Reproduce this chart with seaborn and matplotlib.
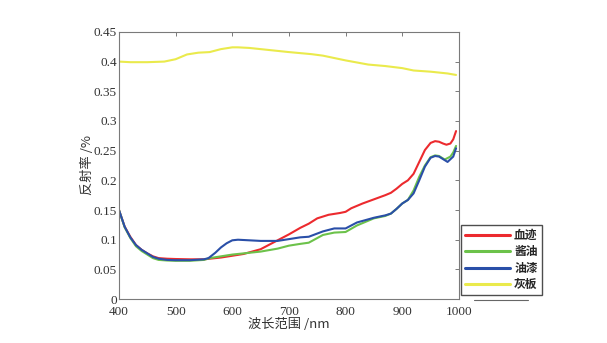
import numpy as np
import pandas as pd
import matplotlib
matplotlib.use("Agg")
import matplotlib.pyplot as plt
from matplotlib.lines import Line2D
import seaborn as sns

# Reflectance spectra (wavelength in nm, reflectance)
blood_wl = [400, 410, 420, 430, 440, 450, 460, 470, 485, 500, 525, 550, 560, 580, 600, 620, 650,
            680, 700, 720, 735, 750, 770, 790, 800, 810, 830, 850, 870, 880, 890, 900, 910,
            920, 930, 940, 950, 958, 965, 972, 978, 985, 990, 995]
blood_val = [0.150, 0.122, 0.105, 0.091, 0.083, 0.077, 0.072, 0.069, 0.068, 0.0675, 0.067, 0.067,
             0.068, 0.070, 0.073, 0.076, 0.084, 0.099, 0.109, 0.120, 0.127, 0.136, 0.142,
             0.145, 0.147, 0.153, 0.161, 0.168, 0.175, 0.179, 0.186, 0.194, 0.200, 0.211,
             0.231, 0.251, 0.263, 0.266, 0.265, 0.262, 0.260, 0.262, 0.269, 0.283]

soy_wl = [400, 410, 420, 430, 440, 450, 460, 470, 485, 500, 525, 550, 560, 580, 600, 620, 650,
          680, 700, 720, 735, 760, 780, 800, 820, 850, 870, 880, 890, 900, 910, 920, 930,
          940, 950, 958, 965, 975, 985, 990, 995]
soy_val = [0.150, 0.121, 0.103, 0.089, 0.081, 0.075, 0.069, 0.066, 0.065, 0.0645, 0.0645, 0.066,
           0.069, 0.072, 0.075, 0.077, 0.080, 0.085, 0.090, 0.093, 0.095, 0.108, 0.112,
           0.113, 0.124, 0.136, 0.140, 0.144, 0.152, 0.161, 0.167, 0.183, 0.206, 0.225,
           0.239, 0.242, 0.241, 0.235, 0.240, 0.247, 0.258]

paint_wl = [400, 410, 420, 430, 440, 450, 460, 470, 485, 500, 525, 550, 558, 570, 580, 590, 600,
            610, 630, 650, 680, 700, 720, 735, 760, 780, 800, 820, 850, 870, 880, 890, 900,
            910, 920, 930, 940, 950, 958, 965, 980, 990, 995]
paint_val = [0.150, 0.122, 0.104, 0.091, 0.083, 0.077, 0.071, 0.068, 0.066, 0.0655, 0.0655, 0.067,
             0.069, 0.078, 0.087, 0.094, 0.099, 0.100, 0.099, 0.098, 0.098, 0.101, 0.104,
             0.105, 0.114, 0.119, 0.119, 0.129, 0.137, 0.141, 0.144, 0.152, 0.161, 0.167,
             0.178, 0.200, 0.223, 0.238, 0.241, 0.240, 0.231, 0.240, 0.254]

board_wl = [400, 420, 450, 480, 500, 520, 540, 560, 580, 600, 610, 630, 650, 680, 700, 740,
            760, 800, 840, 870, 900, 920, 950, 980, 995]
board_val = [0.400, 0.399, 0.399, 0.400, 0.404, 0.412, 0.415, 0.416, 0.421, 0.424, 0.424,
             0.423, 0.421, 0.418, 0.416, 0.4125, 0.410, 0.402, 0.395, 0.3925, 0.389, 0.385,
             0.383, 0.380, 0.3775]

series_names = ["血迹", "酱油", "油漆", "灰板"]
series_colors = ["#ec2a2e", "#6cc24a", "#2a4fa8", "#eaea4c"]

x_ticks = [400, 500, 600, 700, 800, 900, 1000]
y_ticks = [0, 0.05, 0.1, 0.15, 0.2, 0.25, 0.3, 0.35, 0.4, 0.45]
y_ticklabels = ["0", "0.05", "0.1", "0.15", "0.2", "0.25", "0.3", "0.35", "0.4", "0.45"]

frames = []
for name, wl, val in zip(series_names,
                         [blood_wl, soy_wl, paint_wl, board_wl],
                         [blood_val, soy_val, paint_val, board_val]):
    frames.append(pd.DataFrame({"wl": wl, "r": val, "sample": name}))
df = pd.concat(frames, ignore_index=True)

sns.set_style("white")
plt.rcParams["font.family"] = ["Liberation Serif", "Noto Sans CJK SC", "DejaVu Sans"]

fig = plt.figure(figsize=(6.07, 3.43), dpi=100)
ax = fig.add_axes([0.196, 0.128, 0.560, 0.779])

sns.lineplot(data=df, x="wl", y="r", hue="sample", hue_order=series_names,
             palette=series_colors, linewidth=1.5, legend=False, ax=ax, sort=True)

ax.set_xlim(400, 1000)
ax.set_ylim(0, 0.45)
ax.set_xticks(x_ticks)
ax.set_xticklabels([str(t) for t in x_ticks])
ax.set_yticks(y_ticks)
ax.set_yticklabels(y_ticklabels)

for s in ax.spines.values():
    s.set_color("#7a7a7a")
    s.set_linewidth(0.8)
ax.tick_params(direction="in", length=3, width=0.7, color="#7a7a7a",
               top=True, right=True, labelsize=9.5, labelcolor="#333333")
ax.tick_params(axis="x", pad=5)
ax.tick_params(axis="y", pad=1.5)

ax.set_xlabel("波长范围 /nm", fontsize=9.5, color="#333333",
              family=["Noto Sans CJK SC", "DejaVu Sans"], labelpad=0)
ax.set_ylabel("反射率 /%", fontsize=9.5, color="#333333",
              family=["Noto Sans CJK SC", "DejaVu Sans"], labelpad=0)

handles = [Line2D([0], [0], color=c, lw=2.2) for c in series_colors]
leg = fig.legend(handles, series_names, loc="upper left",
                 bbox_to_anchor=(461 / 607, 1 - 225 / 343), bbox_transform=fig.transFigure,
                 frameon=True, fancybox=False, handlelength=3.8, handletextpad=0.35,
                 borderpad=0.35, labelspacing=0.28, borderaxespad=0,
                 prop={"family": ["Noto Sans CJK SC", "DejaVu Sans"], "size": 8.5, "weight": "bold"})
leg.get_frame().set_edgecolor("#222222")
leg.get_frame().set_linewidth(1.0)

# thin rule beneath the legend box
fig.add_artist(Line2D([474 / 607, 528 / 607], [1 - 300 / 343, 1 - 300 / 343],
                      color="#666666", lw=0.8, transform=fig.transFigure))

fig.savefig("out.png", dpi=100)
